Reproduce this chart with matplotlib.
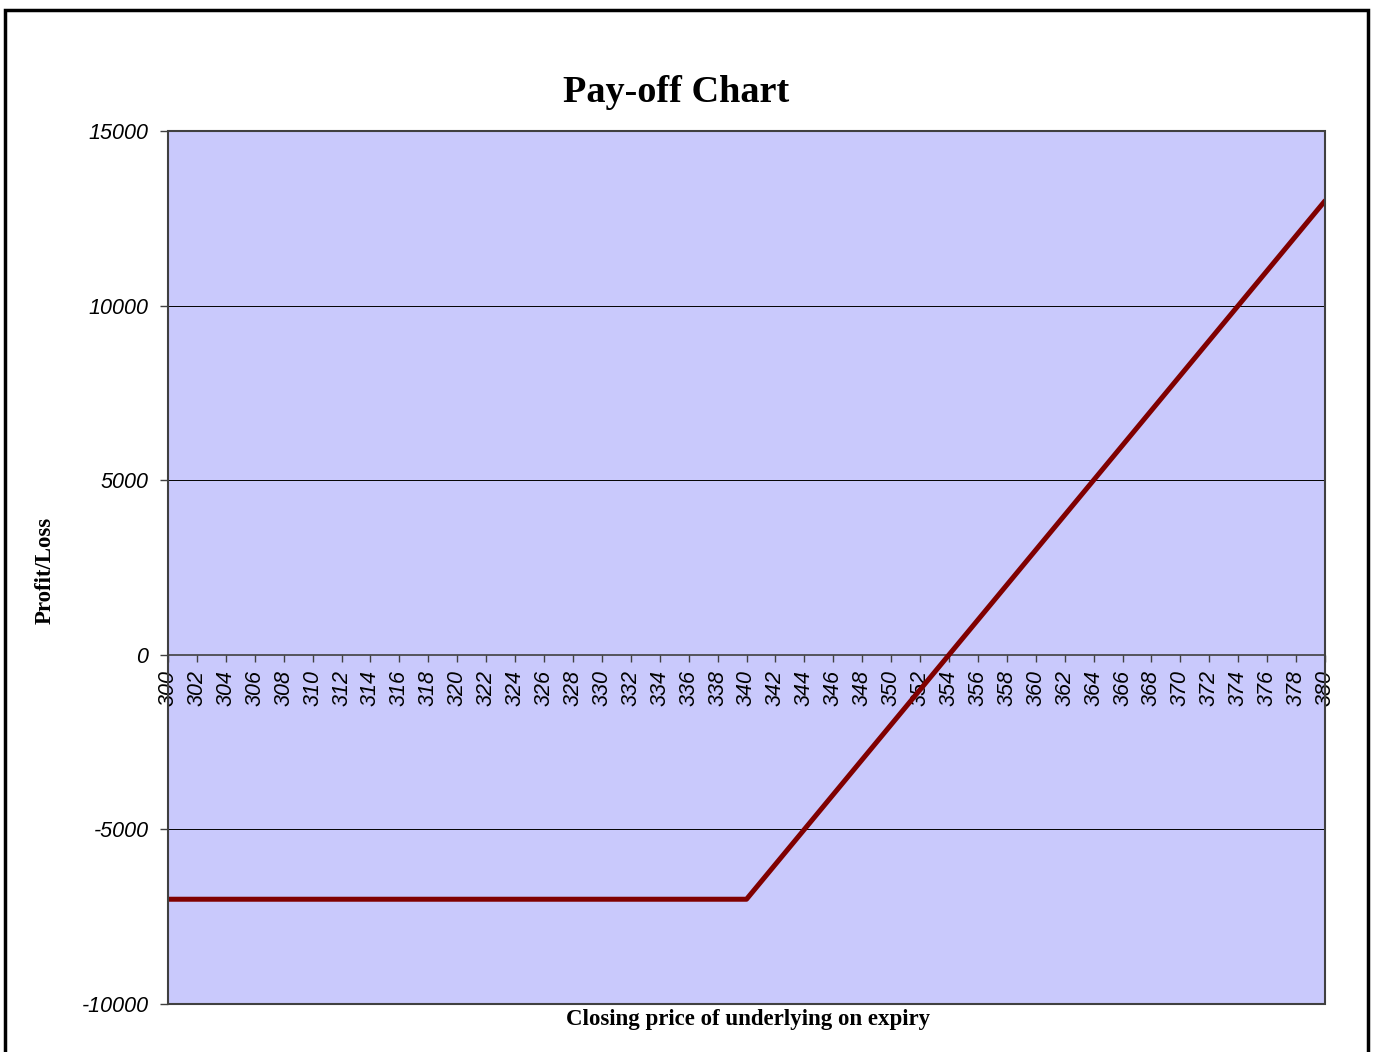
import matplotlib
matplotlib.use("Agg")
import matplotlib.pyplot as plt
from matplotlib.patches import Rectangle

# Data
prices = list(range(300, 381, 2))
payoff = [-7000] * 21 + [-6000, -5000, -4000, -3000, -2000, -1000, 0, 1000, 2000,
                         3000, 4000, 5000, 6000, 7000, 8000, 9000, 10000, 11000, 12000, 13000]
y_ticks = [-10000, -5000, 0, 5000, 10000, 15000]
title = "Pay-off Chart"
x_label = "Closing price of underlying on expiry"
y_label = "Profit/Loss"

fig = plt.figure(figsize=(13.73, 10.52), dpi=100)
ax = fig.add_axes([168/1373, 1 - 1004/1052, (1325-168)/1373, (1004-131)/1052])
ax.set_facecolor('#C9C9FC')

for s in ['top', 'right', 'left']:
    ax.spines[s].set_visible(False)
ax.spines['bottom'].set_position(('data', 0))
ax.spines['bottom'].set_color('#404040')
ax.spines['bottom'].set_linewidth(1.2)

ax.plot(prices, payoff, color='#800000', linewidth=3.6, solid_capstyle='round',
        solid_joinstyle='round', zorder=5)

ax.set_xlim(prices[0], prices[-1])
ax.set_ylim(-10000, 15000)
ax.set_yticks(y_ticks)
ax.set_yticklabels([str(v) for v in y_ticks], fontstyle='italic', fontsize=15.5,
                   family='Liberation Sans')
ax.set_xticks(prices)
ax.set_xticklabels([str(p) for p in prices], rotation=90, fontstyle='italic',
                   fontsize=15.5, family='Liberation Sans')

for v in [-5000, 5000, 10000]:
    ax.axhline(v, color='black', linewidth=0.7, zorder=1)

ax.tick_params(axis='x', direction='out', length=5, width=1, color='#404040', pad=6)
ax.tick_params(axis='y', direction='out', length=6, width=1, color='#404040', pad=8)

ax.add_patch(Rectangle((0, 0), 1, 1, transform=ax.transAxes, fill=False,
                       edgecolor='#404040', linewidth=1.5, clip_on=False, zorder=6))

fig.text(676/1373, 1 - 92/1052, title, ha='center', va='center',
         fontsize=27.5, fontweight='bold', family='Liberation Serif')
fig.text(748/1373, 1 - 1019/1052, x_label, ha='center', va='center',
         fontsize=16.5, fontweight='bold', family='Liberation Serif')
fig.text(45/1373, 1 - 570/1052, y_label, ha='center', va='center', rotation=90,
         fontsize=16.5, fontweight='bold', family='Liberation Serif')

fig.add_artist(Rectangle((5/1373, -0.05), (1368-5)/1373, 1.05 - 10/1052,
                         transform=fig.transFigure, fill=False, edgecolor='black',
                         linewidth=2.5, clip_on=False))

fig.savefig('out.png', dpi=100)
